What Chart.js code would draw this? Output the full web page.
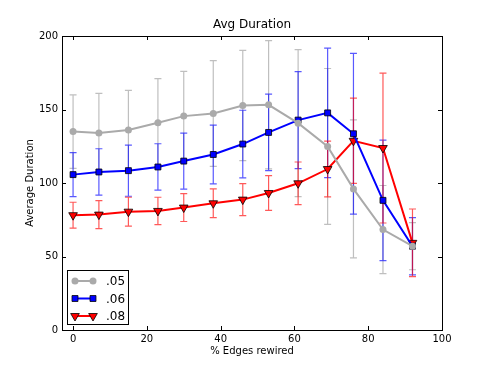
<!DOCTYPE html>
<html>
<head>
<meta charset="utf-8">
<script src="https://cdn.jsdelivr.net/npm/chart.js@4"></script>
<style>
html, body { margin: 0; padding: 0; background: #fff; }
#wrap { width: 491px; height: 368px; }
</style>
</head>
<body>
<div id="wrap"><canvas id="chart"></canvas></div>
<script>
// % edges rewired
const xVals = [0, 7, 15, 23, 30, 38, 46, 53, 61, 69, 76, 84, 92];
const seriesLabels = ['.05', '.06', '.08'];

// average duration + error (half-length of bar)
const y05 = [135, 134, 136, 141, 145.5, 147.3, 152.7, 153.2, 140.7, 124.9, 96, 68.3, 57];
const e05 = [25, 27, 27, 30, 30.5, 36, 37.5, 43.6, 50, 53, 47, 30, 16];
const y06 = [105.7, 107.5, 108.4, 110.9, 114.9, 119.4, 126.5, 134.4, 142.8, 147.7, 133.5, 88.2, 57];
const e06 = [15, 15.8, 17.4, 15.8, 19, 20, 23, 26, 33, 44, 54.7, 41, 19.5];
const y08 = [78.1, 78.5, 80.5, 81, 83.3, 86.2, 88.7, 93.2, 99.8, 109.5, 128.7, 123.8, 59.3];
const e08 = [8.8, 9.5, 9.8, 9.3, 9.5, 9.8, 10.9, 11.8, 14.5, 19, 29, 51, 23];

const xTicks = [0, 20, 40, 60, 80, 100];
const yTicks = [0, 50, 100, 150, 200];

const FONT = '"DejaVu Sans", "Bitstream Vera Sans", sans-serif';

const styles = [
    { line: '#aaaaaa', err: 'rgba(170,170,170,0.75)', point: 'circle', radius: 3.5, rot: 0, edge: '#aaaaaa' },
    { line: '#0000ff', err: 'rgba(0,0,255,0.65)', point: 'rect', radius: 4.2, rot: 0, edge: '#000000' },
    { line: '#ff0000', err: 'rgba(255,0,0,0.65)', point: 'triangle', radius: 5, rot: 180, edge: '#000000' }
];
const yData = [y05, y06, y08];
const eData = [e05, e06, e08];

function makeDataset(i) {
    const s = styles[i];
    return {
        label: seriesLabels[i],
        data: xVals.map((x, k) => ({ x: x, y: yData[i][k] })),
        borderColor: s.line,
        backgroundColor: s.line,
        borderWidth: 2,
        pointStyle: s.point,
        pointRadius: s.radius,
        pointRotation: s.rot,
        pointBorderColor: s.edge,
        pointBorderWidth: i === 0 ? 0 : 0.8,
        pointBackgroundColor: s.line,
        tension: 0
    };
}

const mplPlugin = {
    id: 'mpl',
    beforeDatasetsDraw(chart) {
        const ctx = chart.ctx;
        const xs = chart.scales.x, ys = chart.scales.y;
        ctx.save();
        for (let i = 0; i < 3; i++) {
            ctx.strokeStyle = styles[i].err;
            ctx.lineWidth = 1.2;
            xVals.forEach((x, k) => {
                const px = xs.getPixelForValue(x);
                const top = ys.getPixelForValue(yData[i][k] + eData[i][k]);
                const bot = ys.getPixelForValue(yData[i][k] - eData[i][k]);
                ctx.beginPath();
                ctx.moveTo(px, top); ctx.lineTo(px, bot);
                ctx.moveTo(px - 3.5, top); ctx.lineTo(px + 3.5, top);
                ctx.moveTo(px - 3.5, bot); ctx.lineTo(px + 3.5, bot);
                ctx.stroke();
            });
        }
        ctx.restore();
    },
    afterDraw(chart) {
        const ctx = chart.ctx;
        const a = chart.chartArea;
        const xs = chart.scales.x, ys = chart.scales.y;
        ctx.save();
        // frame
        ctx.strokeStyle = '#000';
        ctx.lineWidth = 1;
        ctx.strokeRect(Math.round(a.left) + 0.5, Math.round(a.top) + 0.5,
            Math.round(a.right - a.left), Math.round(a.bottom - a.top));
        // inward ticks on all sides
        ctx.beginPath();
        xTicks.forEach(v => {
            const px = Math.round(xs.getPixelForValue(v)) + 0.5;
            ctx.moveTo(px, a.bottom); ctx.lineTo(px, a.bottom - 4);
            ctx.moveTo(px, a.top); ctx.lineTo(px, a.top + 4);
        });
        yTicks.forEach(v => {
            const py = Math.round(ys.getPixelForValue(v)) + 0.5;
            ctx.moveTo(a.left, py); ctx.lineTo(a.left + 4, py);
            ctx.moveTo(a.right, py); ctx.lineTo(a.right - 4, py);
        });
        ctx.stroke();

        // title and axis labels
        ctx.fillStyle = '#000';
        ctx.textAlign = 'center';
        ctx.textBaseline = 'middle';
        ctx.font = '12px ' + FONT;
        ctx.fillText('Avg Duration', (a.left + a.right) / 2, 25);
        ctx.font = '10px ' + FONT;
        ctx.fillText('% Edges rewired', (a.left + a.right) / 2, 351);
        ctx.save();
        ctx.translate(30, (a.top + a.bottom) / 2);
        ctx.rotate(-Math.PI / 2);
        ctx.fillText('Average Duration', 0, 0);
        ctx.restore();

        // legend
        const lx = 67.5, ly = 270.5, lw = 61, lh = 54;
        ctx.fillStyle = '#fff';
        ctx.fillRect(lx, ly, lw, lh);
        ctx.strokeStyle = '#000';
        ctx.strokeRect(lx, ly, lw, lh);
        const rows = [281, 298.5, 316];
        rows.forEach((ry, i) => {
            const s = styles[i];
            ctx.strokeStyle = s.line;
            ctx.lineWidth = 2;
            ctx.beginPath();
            ctx.moveTo(75, ry); ctx.lineTo(93, ry);
            ctx.stroke();
            [75, 93].forEach(mx => {
                ctx.fillStyle = s.line;
                ctx.strokeStyle = s.edge;
                ctx.lineWidth = i === 0 ? 0 : 0.8;
                Chart.helpers.drawPoint(ctx, {
                    pointStyle: s.point, radius: s.radius, rotation: s.rot,
                    borderWidth: i === 0 ? 0 : 0.8
                }, mx, ry);
            });
            ctx.fillStyle = '#000';
            ctx.textAlign = 'left';
            ctx.font = '12px ' + FONT;
            ctx.fillText(seriesLabels[i], 106, ry + 1);
        });
        ctx.restore();
    }
};

new Chart(document.getElementById('chart'), {
    type: 'line',
    data: { datasets: [0, 1, 2].map(makeDataset) },
    options: {
        responsive: true,
        maintainAspectRatio: false,
        animation: false,
        layout: { padding: { top: 36, right: 49, left: 0, bottom: 0 } },
        plugins: { legend: { display: false }, tooltip: { enabled: false } },
        scales: {
            x: {
                type: 'linear', min: -3, max: 100,
                afterBuildTicks: s => { s.ticks = xTicks.map(v => ({ value: v })); },
                afterFit: s => { s.height = 38; },
                grid: { display: false, drawTicks: false },
                border: { display: false },
                ticks: { color: '#000', padding: 3, maxRotation: 0, font: { family: FONT, size: 10 } }
            },
            y: {
                type: 'linear', min: 0, max: 200,
                afterBuildTicks: s => { s.ticks = yTicks.map(v => ({ value: v })); },
                afterFit: s => { s.width = 62; },
                grid: { display: false, drawTicks: false },
                border: { display: false },
                ticks: { color: '#000', padding: 4, font: { family: FONT, size: 10 } }
            }
        }
    },
    plugins: [mplPlugin]
});
</script>
</body>
</html>
